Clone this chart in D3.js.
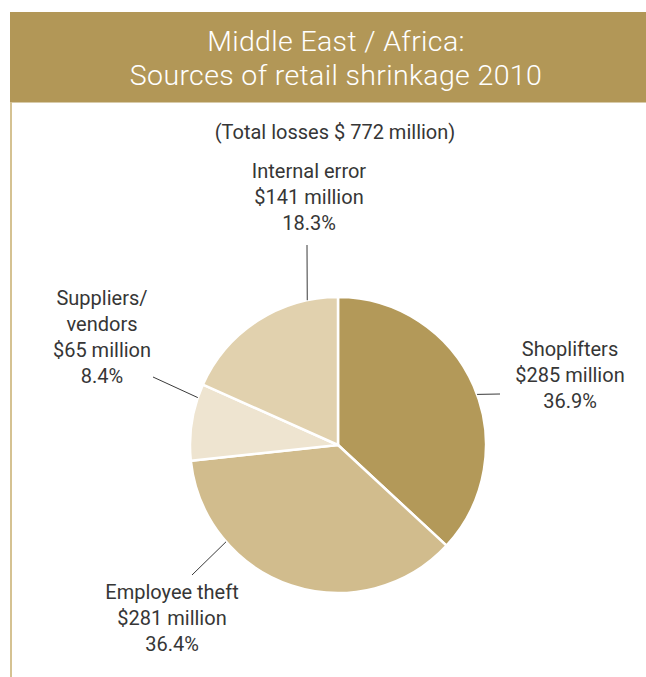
<!DOCTYPE html>
<html>
<head>
<meta charset="utf-8">
<script src="https://cdn.jsdelivr.net/npm/d3@7"></script>
<style>
  html, body { margin: 0; padding: 0; background: #ffffff; }
  svg { display: block; }
  text { font-family: Roboto, "Open Sans", sans-serif; }
</style>
</head>
<body>
<svg id="chart" width="646" height="677"></svg>
<script>
// Shrinkage sources, Middle East / Africa, 2010
const categories = ["Shoplifters", "Employee theft", "Suppliers/\nvendors", "Internal error"];
const amounts = [285, 281, 65, 141];          // $ million
const shares = [36.9, 36.4, 8.4, 18.3];       // percent of total
const totalLosses = 772;
const titleLines = ["Middle East / Africa:", "Sources of retail shrinkage 2010"];

const colors = ["#b39959", "#d1bc8d", "#eee4d0", "#e1d1ae"];

const svg = d3.select("#chart");
const W = 646, H = 677;

// header band
svg.append("rect")
  .attr("x", 10).attr("y", 12)
  .attr("width", W - 10).attr("height", 90.5)
  .attr("fill", "#b29757");

svg.selectAll("text.title")
  .data(titleLines)
  .join("text")
  .attr("class", "title")
  .attr("x", 336)
  .attr("y", (d, i) => 51 + i * 34)
  .attr("text-anchor", "middle")
  .attr("fill", "#ffffff")
  .attr("font-size", 28.5)
  .attr("font-weight", 300)
  .attr("letter-spacing", 0.35)
  .text(d => d);

// left rule below the header
svg.append("line")
  .attr("x1", 11).attr("x2", 11)
  .attr("y1", 102).attr("y2", H)
  .attr("stroke", "#d5c292")
  .attr("stroke-width", 2);

svg.append("text")
  .attr("x", 335).attr("y", 139)
  .attr("text-anchor", "middle")
  .attr("fill", "#363636")
  .attr("font-size", 20)
  .attr("font-weight", 400)
  .text(`(Total losses $ ${totalLosses} million)`);

// pie
const cx = 338, cy = 445, R = 148;
const data = categories.map((c, i) => ({ name: c, amount: amounts[i], share: shares[i], color: colors[i] }));

const pie = d3.pie().sort(null).value(d => d.share);
const arcs = pie(data);
const arc = d3.arc().innerRadius(0).outerRadius(R);

const g = svg.append("g").attr("transform", `translate(${cx},${cy})`);
g.selectAll("path")
  .data(arcs)
  .join("path")
  .attr("d", arc)
  .attr("fill", d => d.data.color)
  .attr("stroke", "#ffffff")
  .attr("stroke-width", 2.5)
  .attr("stroke-linejoin", "round");

// leader lines: where on the slice they start (0..1 across the slice) and their outer end
const leaders = [
  { t: 0.527, end: [500, 394] },
  { t: 0.735, end: [192, 575] },
  { t: 0.82, end: [153, 377] },
  { t: 0.818, end: [307, 245] }
];
// label anchors (centre x, first baseline)
const labelPos = [[570, 356], [172, 599], [102, 305], [309, 178]];

const toXY = (a, r) => [cx + r * Math.sin(a), cy - r * Math.cos(a)];

arcs.forEach((a, i) => {
  const ang = a.startAngle + leaders[i].t * (a.endAngle - a.startAngle);
  const [x1, y1] = toXY(ang, R);
  svg.append("line")
    .attr("x1", x1).attr("y1", y1)
    .attr("x2", leaders[i].end[0]).attr("y2", leaders[i].end[1])
    .attr("stroke", "#3a3a3a")
    .attr("stroke-width", 1);

  const lines = [...a.data.name.split("\n"), `$${a.data.amount} million`, `${a.data.share.toFixed(1)}%`];
  const t = svg.append("text")
    .attr("text-anchor", "middle")
    .attr("fill", "#363636")
    .attr("font-size", 20)
    .attr("font-weight", 400);
  lines.forEach((s, k) => {
    t.append("tspan")
      .attr("x", labelPos[i][0])
      .attr("y", labelPos[i][1] + k * 26)
      .text(s);
  });
});
</script>
</body>
</html>
